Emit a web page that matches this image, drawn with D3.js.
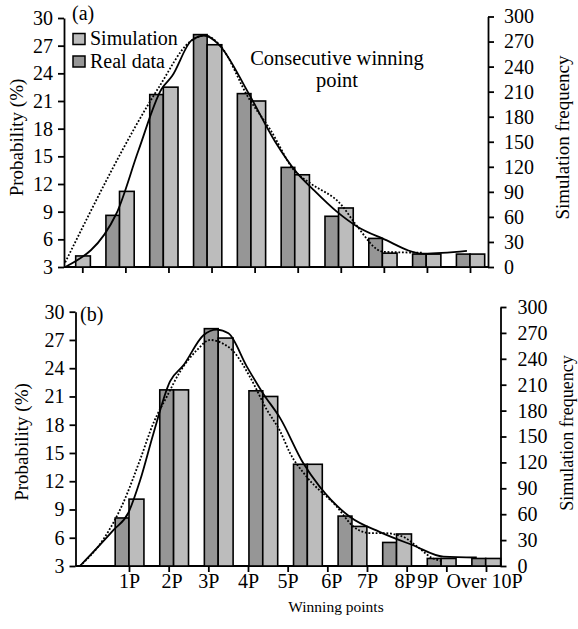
<!DOCTYPE html>
<html>
<head>
<meta charset="utf-8">
<script src="https://cdn.jsdelivr.net/npm/d3@7"></script>
<style>
  html, body { margin: 0; padding: 0; background: #fff; }
  svg { display: block; }
  text { font-family: "Liberation Serif", "Times New Roman", serif; fill: #000; }
</style>
</head>
<body>
<svg id="chart" width="578" height="629"></svg>
<script>
// ---------------- DATA ----------------
const categories = ["1P", "2P", "3P", "4P", "5P", "6P", "7P", "8P", "9P", "Over 10P"];
const probTicks = [3, 6, 9, 12, 15, 18, 21, 24, 27, 30];
const freqTicks = [0, 30, 60, 90, 120, 150, 180, 210, 240, 270, 300];

// Panel (a): consecutive winning point, probability (%)
const realA = [null, 8.6, 21.7, 28.2, 21.8, 13.8, 8.5, 6.1, 4.4, 4.4];
const simA  = [4.2, 11.2, 22.5, 27.1, 21.0, 13.0, 9.4, 4.5, 4.4, 4.4];
// Panel (b): winning points, probability (%)
const realB = [null, 8.1, 21.7, 28.2, 21.6, 13.8, 8.3, 5.5, 3.8, 3.8];
const simB  = [null, 10.1, 21.7, 27.2, 21.0, 13.8, 7.2, 6.4, 3.8, 3.8];

// Fitted curves: [group position, probability %]
const solidA = [[-0.24,3.0],[0.93,8.8],[1.43,15.6],[1.96,22.3],[2.2,23.7],[2.65,27.6],[2.95,28.1],[3.25,27.2],[3.95,21.8],[4.55,16.6],[5.05,13.2],[5.4,11.5],[5.96,9.0],[6.42,7.4],[7.0,6.1],[7.94,4.45],[8.93,4.75]];
const dottedA = [[-0.24,3.5],[1.9,22.5],[2.6,27.4],[2.95,28.1],[3.3,27.0],[3.95,21.3],[4.44,17.9],[5.0,13.4],[5.35,12.1],[6.07,9.7],[6.38,7.7],[7.02,4.65],[7.94,4.55]];
const solidB = [[-0.1,3.0],[0.65,6.8],[0.98,8.6],[1.25,12.1],[1.55,17.1],[1.92,22.6],[2.22,24.3],[2.67,27.5],[2.97,28.1],[3.23,27.7],[3.64,24.2],[4.01,21.3],[4.39,18.7],[4.91,13.9],[5.28,11.4],[5.96,8.2],[6.63,6.6],[7.37,5.2],[8.05,4.0],[8.8,3.9]];
const dottedB = [[-0.1,3.0],[0.42,5.8],[0.87,9.7],[1.25,14.3],[1.55,18.2],[1.85,21.0],[2.14,23.6],[2.52,25.9],[2.82,27.0],[3.11,26.6],[3.34,25.8],[3.71,23.1],[4.09,19.6],[4.39,17.3],[4.61,15.0],[4.98,12.5],[5.66,9.3],[6.03,7.2],[6.4,6.5],[6.7,6.5],[7.15,6.1],[7.45,5.1],[7.82,3.8],[8.05,3.5]];

// ---------------- STYLE ----------------
const DARK = "#969696", LIGHT = "#bcbcbc";
const FONT = 20;
const svg = d3.select("#chart");

function styleAxis(g) {
  g.selectAll("path.domain").attr("stroke", "#000").attr("stroke-width", 1.8);
  g.selectAll(".tick line").attr("stroke", "#000").attr("stroke-width", 1.8);
  g.selectAll(".tick text").style("font-size", FONT + "px")
    .style("font-family", '"Liberation Serif", "Times New Roman", serif').attr("fill", "#000");
}

function panel(cfg) {
  const g = svg.append("g");
  const yL = d3.scaleLinear().domain([3, 30]).range([cfg.base, cfg.topL]);
  const yR = d3.scaleLinear().domain([0, 300]).range([cfg.base, cfg.topR]);
  const x = d3.scaleLinear().domain([cfg.g0, 9]).range([cfg.x0, cfg.x9]);
  const xt = d3.scalePoint().domain(categories).range(cfg.tickRange);
  const step = x(1) - x(0);
  const wD = 0.31 * step, wL = 0.335 * step;

  // baseline
  g.append("line").attr("x1", cfg.left).attr("x2", cfg.right)
    .attr("y1", cfg.base).attr("y2", cfg.base)
    .attr("stroke", "#000").attr("stroke-width", 1.8);

  // x ticks
  const xa = g.append("g").attr("transform", `translate(0,${cfg.base})`)
    .call(d3.axisBottom(xt).tickSize(6).tickSizeOuter(0).tickPadding(2)
      .tickFormat(cfg.labels ? (d => d) : (() => "")));
  xa.select("path.domain").remove();
  styleAxis(xa);
  if (cfg.labels) {
    const shift = { "2P": 3, "6P": 4, "8P": -2, "9P": -19, "Over 10P": -2 };
    xa.selectAll(".tick text").attr("dx", d => shift[d] || 0);
  }

  // left axis
  const la = g.append("g").attr("transform", `translate(${cfg.left},0)`)
    .call(d3.axisLeft(yL).tickValues(probTicks).tickSize(6).tickSizeOuter(0).tickPadding(5));
  styleAxis(la);
  // right axis
  const ra = g.append("g").attr("transform", `translate(${cfg.right},0)`)
    .call(d3.axisRight(yR).tickValues(freqTicks).tickSize(6).tickSizeOuter(0).tickPadding(cfg.rPad));
  styleAxis(ra);

  // bars
  const idx = d3.range(categories.length);
  g.append("g").selectAll("rect.real").data(idx.filter(i => cfg.real[i] != null)).join("rect")
    .attr("x", i => x(i) - wD).attr("width", wD)
    .attr("y", i => yL(cfg.real[i])).attr("height", i => yL(3) - yL(cfg.real[i]))
    .attr("fill", DARK).attr("stroke", "#000").attr("stroke-width", 1.6);
  g.append("g").selectAll("rect.sim").data(idx.filter(i => cfg.sim[i] != null)).join("rect")
    .attr("x", i => x(i)).attr("width", wL)
    .attr("y", i => yL(cfg.sim[i])).attr("height", i => yL(3) - yL(cfg.sim[i]))
    .attr("fill", LIGHT).attr("stroke", "#000").attr("stroke-width", 1.6);

  // curves
  const line = d3.line().x(d => x(d[0])).y(d => yL(d[1])).curve(d3.curveMonotoneX);
  g.append("path").attr("d", line(cfg.dotted)).attr("fill", "none")
    .attr("stroke", "#000").attr("stroke-width", 1.8).attr("stroke-dasharray", "1.8,1.8");
  g.append("path").attr("d", line(cfg.solid)).attr("fill", "none")
    .attr("stroke", "#000").attr("stroke-width", 1.8);

  // axis titles
  g.append("text").attr("transform", `translate(${cfg.ltx},${cfg.tcy}) rotate(-90)`)
    .attr("text-anchor", "middle").style("font-size", "19px").text("Probability (%)");
  g.append("text").attr("transform", `translate(${cfg.rtx},${cfg.rcy}) rotate(-90)`)
    .attr("text-anchor", "middle").style("font-size", cfg.rFont + "px").text("Simulation frequency");
  g.append("text").attr("x", cfg.tagX).attr("y", cfg.tagY).style("font-size", "20px").text(cfg.tag);
  return { g, x, yL };
}

const A = panel({
  base: 267, topL: 18, topR: 16.5, left: 64, right: 488,
  g0: 0, x0: 75.7, x9: 470, tickRange: [82.3, 470], labels: false, rPad: 10,
  real: realA, sim: simA, solid: solidA, dotted: dottedA,
  ltx: 22.5, tcy: 137.5, rtx: 569, rcy: 137.5, rFont: 19, tag: "(a)", tagX: 72, tagY: 20
});

const B = panel({
  base: 566, topL: 311.7, topR: 307, left: 75.5, right: 500.5,
  g0: 1, x0: 129, x9: 485.7, tickRange: [129, 486], labels: true, rPad: 11,
  real: realB, sim: simB, solid: solidB, dotted: dottedB,
  ltx: 27.5, tcy: 442, rtx: 573, rcy: 433, rFont: 18, tag: "(b)", tagX: 80, tagY: 321
});

// legend (panel a)
const legend = [{ name: "Simulation", color: LIGHT }, { name: "Real data", color: DARK }];
const lg = svg.append("g");
legend.forEach((d, i) => {
  lg.append("rect").attr("x", 73).attr("y", 33.5 + i * 22.5).attr("width", 12).attr("height", 11)
    .attr("fill", d.color).attr("stroke", "#000").attr("stroke-width", 1.5);
  lg.append("text").attr("x", 90).attr("y", 45 + i * 22.5).style("font-size", "20px").text(d.name);
});

// annotation
svg.append("text").attr("x", 337).attr("y", 65).attr("text-anchor", "middle")
  .style("font-size", "20.5px").text("Consecutive winning");
svg.append("text").attr("x", 337).attr("y", 86.5).attr("text-anchor", "middle")
  .style("font-size", "20.5px").text("point");

// x-axis title
svg.append("text").attr("x", 336).attr("y", 612).attr("text-anchor", "middle")
  .style("font-size", "15.5px").text("Winning points");
</script>
</body>
</html>
